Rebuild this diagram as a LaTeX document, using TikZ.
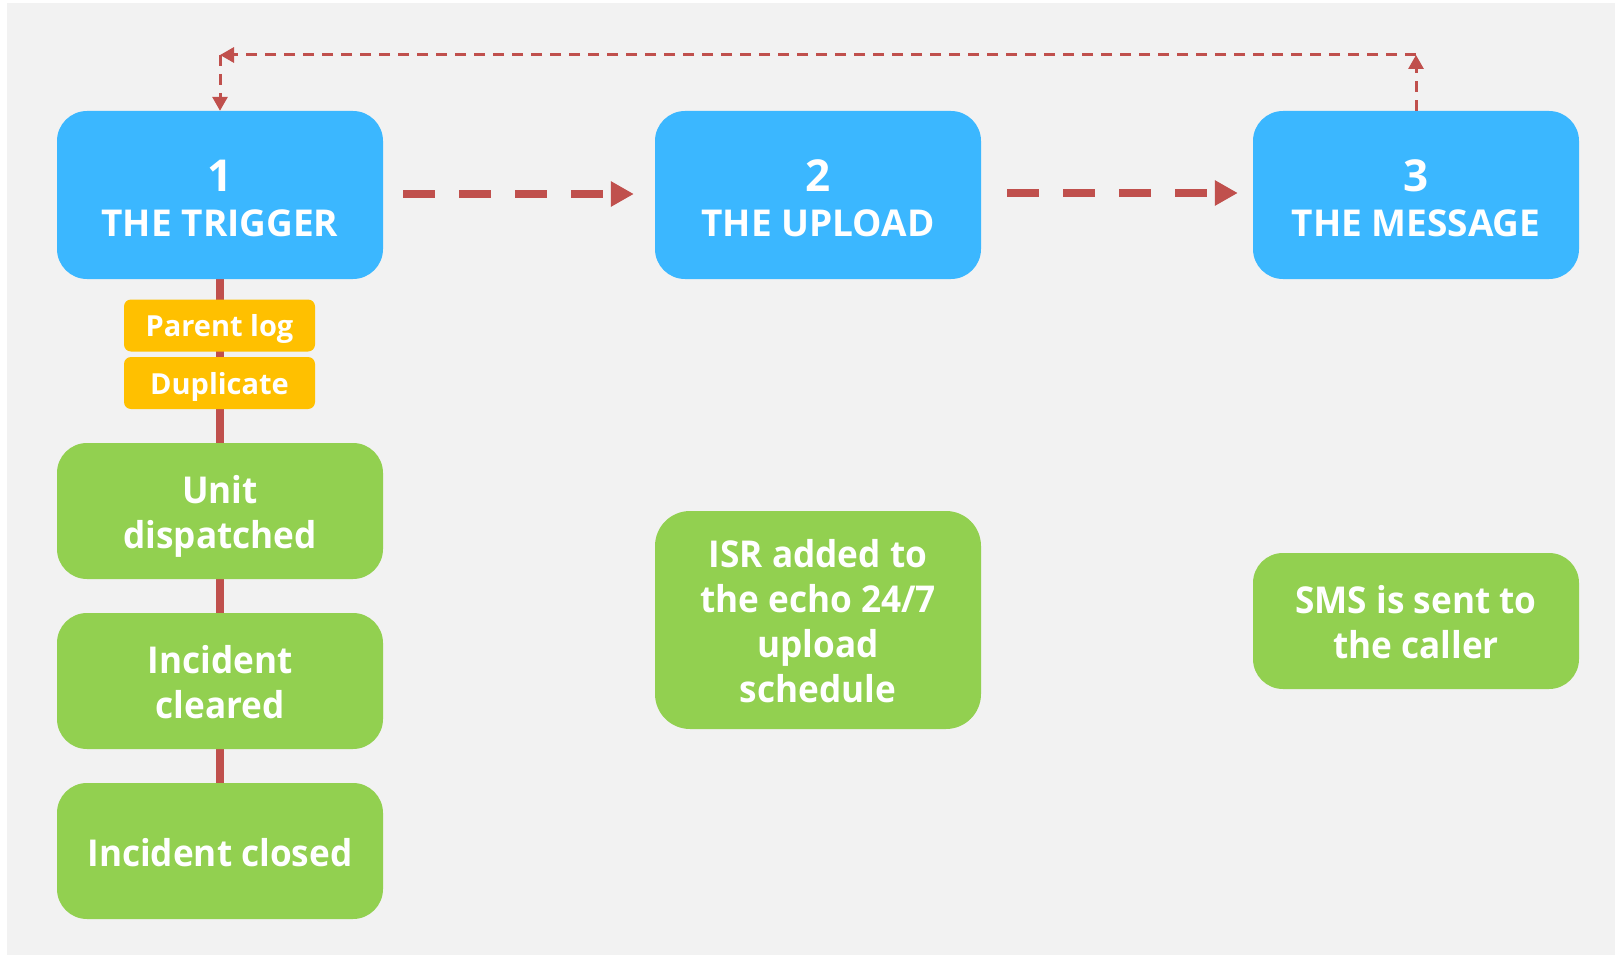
\documentclass[tikz,border=0pt]{standalone}
\usepackage{fontspec}
\setmainfont{Open Sans}
\newfontfamily\taskfont{Open Sans}[FakeStretch=0.95]
\usetikzlibrary{arrows.meta}

\definecolor{paneground}{HTML}{F2F2F2}
\definecolor{stepblue}{HTML}{3BB7FF}
\definecolor{stepgreen}{HTML}{92D050}
\definecolor{tagyellow}{HTML}{FFC000}
\definecolor{linkred}{HTML}{C0504D}

% struts that centre the text on its cap height
\newcommand\capstrut[1]{\rule{0pt}{#1}}
\newcommand\depthstrut[1]{\rule[-#1]{0pt}{#1}}

\pgfdeclarelayer{pane}
\pgfdeclarelayer{links}
\pgfsetlayers{pane,links,main}

\tikzset{
  stepbox/.style={fill=stepblue, rounded corners=30pt, minimum width=326pt,
    minimum height=168pt, inner sep=0pt, text=white, align=center,
    font=\bfseries\fontsize{37}{45}\selectfont},
  taskbox/.style={fill=stepgreen, rounded corners=30pt, minimum width=326pt,
    minimum height=136pt, inner sep=0pt, text=white, align=center,
    font=\taskfont\bfseries\fontsize{37}{45}\selectfont},
  tagbox/.style={fill=tagyellow, rounded corners=7pt, minimum width=191pt,
    minimum height=52pt, inner sep=0pt, text=white,
    font=\bfseries\fontsize{29}{34}\selectfont},
  spine/.style={draw=linkred, line width=8.5pt},
  bigflow/.style={draw=linkred, line width=8pt, dash pattern=on 32pt off 24pt,
    -{Triangle[length=23pt,width=24pt]}},
  feedback/.style={draw=linkred, line width=3pt, dash pattern=on 11pt off 8pt,
    -{Triangle[length=14pt,width=15pt]}},
}

\begin{document}
\begin{tikzpicture}[x=1pt,y=-1pt]
\useasboundingbox (0,0) rectangle (1617,955);
\begin{pgfonlayer}{pane}
  \fill[paneground] (7,3) rectangle (1615,955);
\end{pgfonlayer}

% the three stages
\node[stepbox] (trigger) at (220,195)
  {\capstrut{48pt}{\fontsize{44}{45}\selectfont 1}\\THE TRIGGER\depthstrut{11pt}};
\node[stepbox] (upload) at (818,195)
  {\capstrut{48pt}{\fontsize{44}{45}\selectfont 2}\\THE UPLOAD\depthstrut{11pt}};
\node[stepbox] (message) at (1416,195)
  {\capstrut{48pt}{\fontsize{44}{45}\selectfont 3}\\THE MESSAGE\depthstrut{11pt}};

% trigger conditions
\node[tagbox] (parent) at (219.5,325.5) {\capstrut{31pt}Parent log\depthstrut{9pt}};
\node[tagbox] (duplicate) at (219.5,383) {\capstrut{31pt}Duplicate\depthstrut{9pt}};

\node[taskbox] (dispatched) at (220,511)
  {\capstrut{41pt}Unit\\dispatched\depthstrut{11pt}};
\node[taskbox] (cleared) at (220,681)
  {\capstrut{41pt}Incident\\cleared\depthstrut{11pt}};
\node[taskbox] (closed) at (220,851)
  {\capstrut{41pt}Incident closed\depthstrut{11pt}};

\node[taskbox, minimum height=218pt, rounded corners=35pt] (isr) at (818,620)
  {\capstrut{41pt}ISR added to\\the echo 24/7\\upload\\schedule\depthstrut{11pt}};
\node[taskbox] (sms) at (1416,621)
  {\capstrut{41pt}SMS is sent to\\the caller\depthstrut{11pt}};

% vertical spine under the trigger
\begin{pgfonlayer}{links}
  \draw[spine] (trigger.south) -- (dispatched.north);
  \draw[spine] (dispatched.south) -- (cleared.north);
  \draw[spine] (cleared.south) -- (closed.north);
\end{pgfonlayer}

% main flow
\draw[bigflow] ([shift={(20,-1)}]trigger.east) -- ([shift={(-21,-1)}]upload.west);
\draw[bigflow] ([shift={(26,-2)}]upload.east) -- ([shift={(-15,-2)}]message.west);

% feedback loop back to the trigger
\coordinate (loopR) at (1416,55);
\coordinate (loopL) at (220,55);
\draw[feedback] (message.north) -- (loopR);
\draw[feedback] (loopR) -- (loopL);
\draw[feedback] (loopL) -- (trigger.north);
\end{tikzpicture}
\end{document}
